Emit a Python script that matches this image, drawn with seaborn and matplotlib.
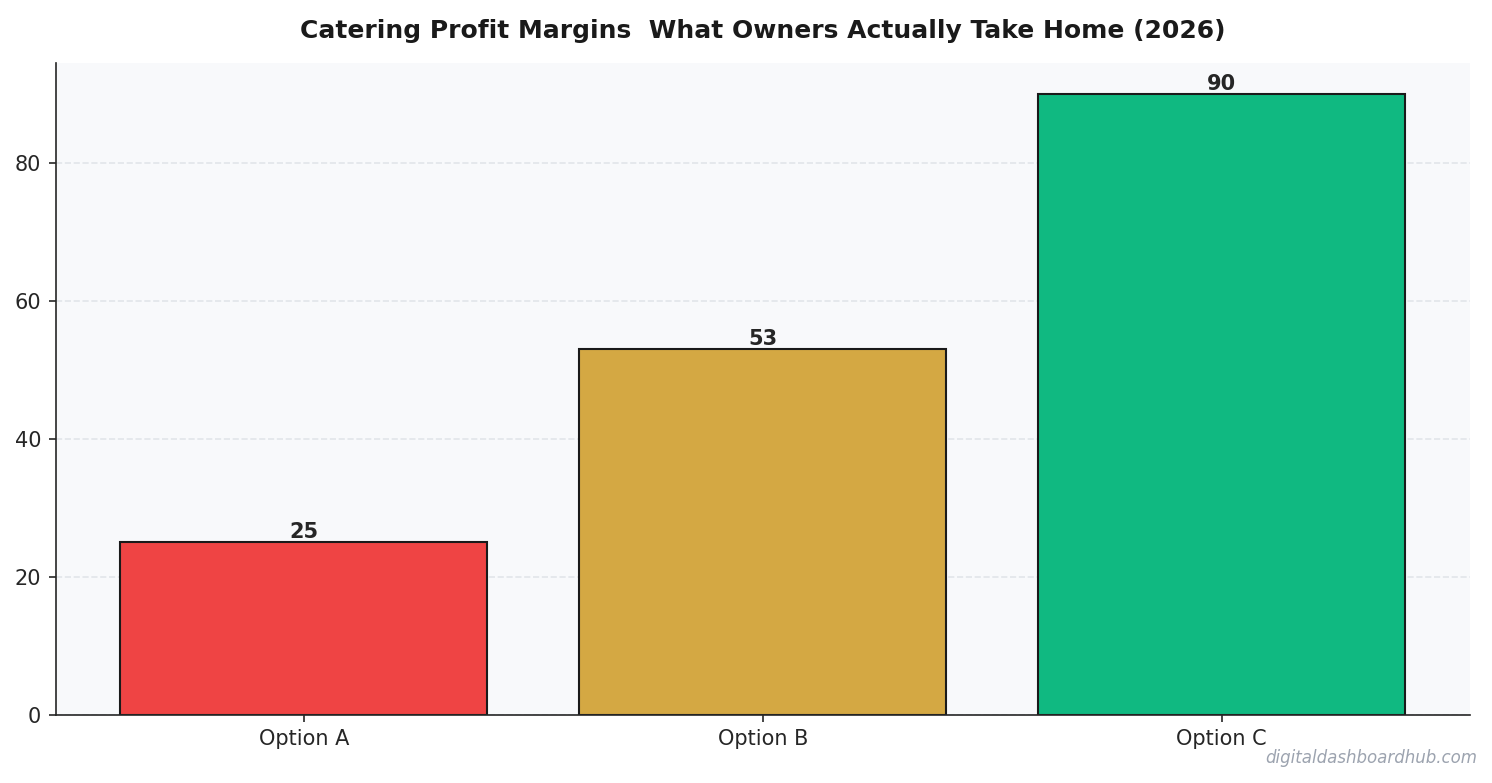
import matplotlib
matplotlib.use("Agg")
import matplotlib.pyplot as plt
import pandas as pd
import seaborn as sns

# Chart values
options = ["Option A", "Option B", "Option C"]
margins = [25, 53, 90]
bar_colors = ["#EF4444", "#D4A843", "#10B981"]

df = pd.DataFrame({"Option": options, "Margin": margins})

sns.set_style("ticks")
plt.rcParams["font.family"] = ["DejaVu Sans"]

fig, ax = plt.subplots(figsize=(1492 / 150, 783 / 150), dpi=150)
sns.barplot(
    data=df, x="Option", y="Margin", hue="Option", palette=bar_colors,
    width=0.8, edgecolor="#1a1a1a", linewidth=1.0, saturation=1, legend=False, ax=ax,
)

for cont in ax.containers:
    ax.bar_label(cont, fmt="%d", fontweight="bold", fontsize=10, padding=0)

ax.set_facecolor("#F8F9FB")
ax.set_ylim(0, 94.5)
ax.set_xlim(-0.54, 2.54)
ax.yaxis.grid(True, linestyle="--", color="#E2E5EA", linewidth=0.8)
ax.set_axisbelow(True)
sns.despine(ax=ax)
ax.set_xlabel("")
ax.set_ylabel("")
ax.tick_params(labelsize=10)
ax.set_title("Catering Profit Margins  What Owners Actually Take Home (2026)",
             fontsize=12, fontweight="bold", color="#1a1a1a", pad=12)
fig.text(0.99, 0.02, "digitaldashboardhub.com", ha="right", va="bottom",
         fontsize=8, style="italic", color="#9CA3AF")

fig.subplots_adjust(left=0.0375, right=0.985, top=0.92, bottom=0.087)
fig.savefig("out.png", dpi=150)
